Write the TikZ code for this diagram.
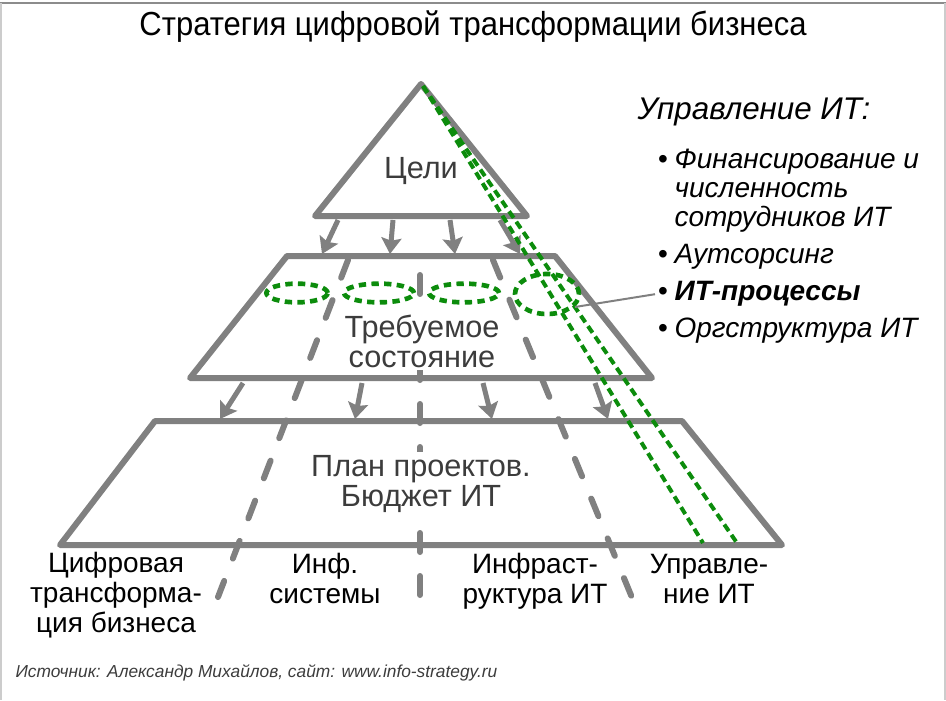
\documentclass[tikz,border=0pt]{standalone}
\usepackage{fontspec}
\setmainfont{Liberation Sans}
\newfontfamily\narrowsans[FakeStretch=0.93]{Liberation Sans}
\usetikzlibrary{arrows.meta,shapes.geometric}

\definecolor{pyrgray}{RGB}{128,128,128}
\definecolor{txtgray}{RGB}{60,60,60}
\definecolor{itgreen}{RGB}{12,140,12}

\tikzset{every picture/.style={line width=0.75pt}}
\tikzset{
  pyr/.style={draw=pyrgray, line width=4.5pt, line join=round, line cap=round},
  down/.style={draw=pyrgray, line width=3.75pt, -{Stealth[length=12pt,width=15pt,inset=2pt]}},
  column/.style={draw=pyrgray, line width=4.5pt, line cap=round, dash pattern=on 14.25pt off 18pt},
  grnline/.style={draw=itgreen, line width=3pt, dash pattern=on 6pt off 3.5pt},
  oval/.style={ellipse, draw=itgreen, line width=3.5pt, dash pattern=on 5.5pt off 4pt, inner sep=0pt},
  lvl/.style={text=txtgray, fill=white, inner sep=2pt, align=center, font=\fontsize{23}{22.5}\selectfont},
  lab/.style={align=center, inner sep=0pt, font=\fontsize{21}{22.5}\selectfont},
  bul/.style={inner sep=2pt, font=\fontsize{21}{21.75}\selectfont\itshape}
}
\newcommand{\bulitem}[1]{\begin{tabular}[t]{@{}l@{\hspace{5pt}}l@{}}\upshape\textbullet & #1\end{tabular}}

\begin{document}
\begin{tikzpicture}[x=0.75pt,y=0.75pt,yscale=-1,xscale=1]
  \useasboundingbox (0,0) rectangle (946,700);

  %Frame
  \draw [draw=black!45, line width=1.2pt] (0,3) -- (946,3) ;
  \draw [draw=black!20, line width=1.5pt] (1,3) -- (1,700) (945,3) -- (945,700) ;

  %Title
  \draw (473,35) node (title) [anchor=base] {\fontsize{25}{28}\narrowsans Стратегия цифровой трансформации бизнеса};

  %Shape: Triangle
  \draw [pyr] (421,84) -- (527,216) -- (315,216) -- cycle ;
  %Shape: Trapezoid
  \draw [pyr] (287,256) -- (555,256) -- (652,378) -- (190,378) -- cycle ;
  %Shape: Trapezoid
  \draw [pyr] (155,421) -- (682,421) -- (782,545) -- (60,545) -- cycle ;

  %Arrows
  \foreach \sx/\tx [count=\i] in {338/322, 393/390, 450/455, 500/520} {
    \coordinate (up\i) at (\sx,220);
    \coordinate (dn\i) at (\tx,254);
    \draw [down] (up\i) -- (dn\i);
  }
  \foreach \sx/\tx [count=\i] in {243/220, 362/355, 483/492, 595/608} {
    \coordinate (mu\i) at (\sx,383);
    \coordinate (md\i) at (\tx,419);
    \draw [down] (mu\i) -- (md\i);
  }

  %Columns
  \draw [column] (348,260) -- (218,597) ;
  \draw [column] (420,275) -- (420,598) ;
  \draw [column] (493,260) -- (633,600) ;

  \draw (421,178) node (goals) [lvl, anchor=base] {Цели};
  \draw (422,367) node (state) [lvl, anchor=base] {Требуемое\\состояние};
  \draw (421,506) node (plan) [lvl, anchor=base] {План проектов.\\Бюджет ИТ};

  %Ovals
  \draw (297,293) node (e1) [oval, minimum width=46pt, minimum height=14pt] {};
  \draw (379,293) node (e2) [oval, minimum width=52.5pt, minimum height=14pt] {};
  \draw (464,293) node (e3) [oval, minimum width=52.5pt, minimum height=14pt] {};
  \draw (547,294) node (e4) [oval, minimum width=48pt, minimum height=30pt] {};

  %Green lines
  \coordinate (apex) at (423,86);
  \coordinate (g1) at (703,543);
  \coordinate (g2) at (737,543);
  \draw [grnline] (apex) -- (g1) ;
  \draw [grnline] (apex) -- (g2) ;

  %Bottom labels
  \draw (116,632) node (lab1) [lab, anchor=base] {Цифровая\\трансформа-\\ция бизнеса};
  \draw (325,603) node (lab2) [lab, anchor=base] {Инф.\\системы};
  \draw (535,603) node (lab3) [lab, anchor=base] {Инфраст-\\руктура ИТ};
  \draw (709,603) node (lab4) [lab, anchor=base] {Управле-\\ние ИТ};

  %IT management list
  \draw (637,119) node (head) [anchor=base west, inner sep=0pt] {\fontsize{23.5}{26}\selectfont\itshape Управление ИТ:};
  \draw (655,168) node (it1) [bul, anchor=base west] {\bulitem{Финансирование и\\ & численность\\ & сотрудников ИТ}};
  \draw (655,263) node (it2) [bul, anchor=base west] {\bulitem{Аутсорсинг}};
  \draw (655,300) node (it3) [bul, anchor=base west] {\bulitem{\bfseries ИТ-процессы}};
  \draw (655,337) node (it4) [bul, anchor=base west] {\bulitem{Оргструктура ИТ}};
  \draw [draw=pyrgray, line width=1.5pt] (e4.-25) -- (it3.west) ;

  %Source
  \draw (15,677) node (src) [anchor=base west, inner sep=0pt, text=txtgray] {\fontsize{13}{15}\selectfont\itshape Источник: Александр Михайлов, сайт: www.info-strategy.ru};
\end{tikzpicture}
\end{document}
